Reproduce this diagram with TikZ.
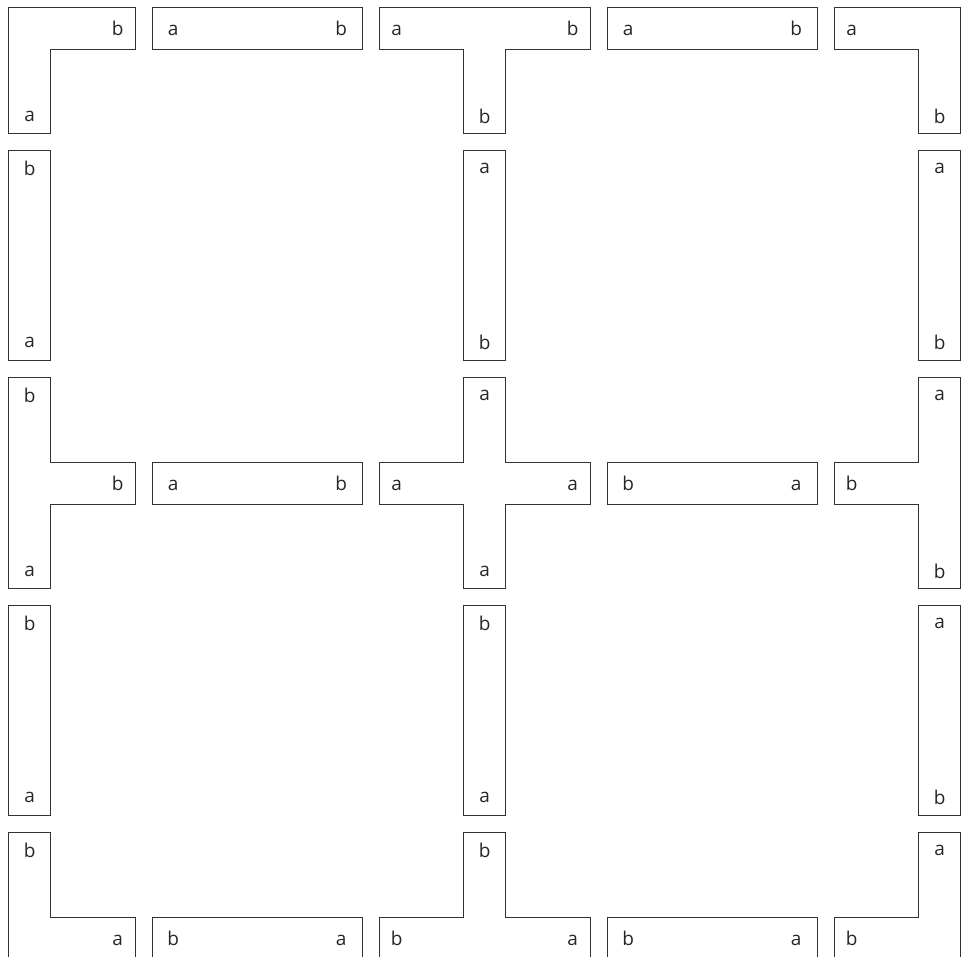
\documentclass[tikz,border=0pt]{standalone}
\usepackage{fontspec}
\setmainfont{Open Sans}
\usetikzlibrary{calc}
\newcommand{\armw}{21}
\newcommand{\armlen}{105.5}
\tikzset{
  tile/.style={draw=black!80, line width=0.75pt},
  lbl/.style={font=\fontsize{19}{19}\selectfont, text=black!85, inner sep=0pt},
  hlbl/.style={lbl, anchor=base},
}

\begin{document}
\begin{tikzpicture}[x=1pt, y=-1pt]
  \useasboundingbox (0,0) rectangle (971,956);
  \clip (0,0) rectangle (971,956);

  % junction centres
  \coordinate (j00) at (29.6,28);  \coordinate (j10) at (484.6,28);  \coordinate (j20) at (939.6,28);
  \coordinate (j01) at (29.6,483); \coordinate (j11) at (484.6,483); \coordinate (j21) at (939.6,483);
  \coordinate (j02) at (29.6,938); \coordinate (j12) at (484.6,938); \coordinate (j22) at (939.6,938);

  % junction pieces
  \draw[tile, shift={(j00)}] (-\armw,-\armw) -- (\armlen,-\armw) -- (\armlen,\armw) -- (\armw,\armw)
    -- (\armw,\armlen) -- (-\armw,\armlen) -- cycle;
  \draw[tile, shift={(j10)}] (-\armlen,-\armw) -- (\armlen,-\armw) -- (\armlen,\armw) -- (\armw,\armw)
    -- (\armw,\armlen) -- (-\armw,\armlen) -- (-\armw,\armw) -- (-\armlen,\armw) -- cycle;
  \draw[tile, shift={(j20)}] (-\armlen,-\armw) -- (\armw,-\armw) -- (\armw,\armlen) -- (-\armw,\armlen)
    -- (-\armw,\armw) -- (-\armlen,\armw) -- cycle;
  \draw[tile, shift={(j01)}] (-\armw,-\armlen) -- (\armw,-\armlen) -- (\armw,-\armw) -- (\armlen,-\armw)
    -- (\armlen,\armw) -- (\armw,\armw) -- (\armw,\armlen) -- (-\armw,\armlen) -- cycle;
  \draw[tile, shift={(j11)}] (-\armw,-\armlen) -- (\armw,-\armlen) -- (\armw,-\armw) -- (\armlen,-\armw)
    -- (\armlen,\armw) -- (\armw,\armw) -- (\armw,\armlen) -- (-\armw,\armlen) -- (-\armw,\armw)
    -- (-\armlen,\armw) -- (-\armlen,-\armw) -- (-\armw,-\armw) -- cycle;
  \draw[tile, shift={(j21)}] (-\armw,-\armlen) -- (\armw,-\armlen) -- (\armw,\armlen) -- (-\armw,\armlen)
    -- (-\armw,\armw) -- (-\armlen,\armw) -- (-\armlen,-\armw) -- (-\armw,-\armw) -- cycle;
  \draw[tile, shift={(j02)}] (-\armw,-\armlen) -- (\armw,-\armlen) -- (\armw,-\armw) -- (\armlen,-\armw)
    -- (\armlen,\armw) -- (-\armw,\armw) -- cycle;
  \draw[tile, shift={(j12)}] (-\armw,-\armlen) -- (\armw,-\armlen) -- (\armw,-\armw) -- (\armlen,-\armw)
    -- (\armlen,\armw) -- (-\armlen,\armw) -- (-\armlen,-\armw) -- (-\armw,-\armw) -- cycle;
  \draw[tile, shift={(j22)}] (-\armw,-\armlen) -- (\armw,-\armlen) -- (\armw,\armw) -- (-\armlen,\armw)
    -- (-\armlen,-\armw) -- (-\armw,-\armw) -- cycle;

  % junction labels
  \node[hlbl] (j00e) at ($(j00)+(\armlen-17.5,7)$) {b};
  \node[lbl]  (j00s) at ($(j00)+(0,\armlen-17.5)$) {a};
  \node[hlbl] (j10w) at ($(j10)+(-\armlen+17.5,7)$) {a};
  \node[hlbl] (j10e) at ($(j10)+(\armlen-17.5,7)$) {b};
  \node[lbl]  (j10s) at ($(j10)+(0,\armlen-17.5)$) {b};
  \node[hlbl] (j20w) at ($(j20)+(-\armlen+17.5,7)$) {a};
  \node[lbl]  (j20s) at ($(j20)+(0,\armlen-17.5)$) {b};
  \node[lbl]  (j01n) at ($(j01)+(0,-\armlen+17.5)$) {b};
  \node[hlbl] (j01e) at ($(j01)+(\armlen-17.5,7)$) {b};
  \node[lbl]  (j01s) at ($(j01)+(0,\armlen-17.5)$) {a};
  \node[lbl]  (j11n) at ($(j11)+(0,-\armlen+17.5)$) {a};
  \node[hlbl] (j11w) at ($(j11)+(-\armlen+17.5,7)$) {a};
  \node[hlbl] (j11e) at ($(j11)+(\armlen-17.5,7)$) {a};
  \node[lbl]  (j11s) at ($(j11)+(0,\armlen-17.5)$) {a};
  \node[lbl]  (j21n) at ($(j21)+(0,-\armlen+17.5)$) {a};
  \node[hlbl] (j21w) at ($(j21)+(-\armlen+17.5,7)$) {b};
  \node[lbl]  (j21s) at ($(j21)+(0,\armlen-17.5)$) {b};
  \node[lbl]  (j02n) at ($(j02)+(0,-\armlen+17.5)$) {b};
  \node[hlbl] (j02e) at ($(j02)+(\armlen-17.5,7)$) {a};
  \node[lbl]  (j12n) at ($(j12)+(0,-\armlen+17.5)$) {b};
  \node[hlbl] (j12w) at ($(j12)+(-\armlen+17.5,7)$) {b};
  \node[hlbl] (j12e) at ($(j12)+(\armlen-17.5,7)$) {a};
  \node[lbl]  (j22n) at ($(j22)+(0,-\armlen+17.5)$) {a};
  \node[hlbl] (j22w) at ($(j22)+(-\armlen+17.5,7)$) {b};

  % horizontal edge pieces
  \foreach \p/\q/\la/\lb in {00/10/a/b, 10/20/a/b, 01/11/a/b, 11/21/b/a, 02/12/b/a, 12/22/b/a} {
    \draw[tile] ($(j\p)+(\armlen+17,-\armw)$) rectangle ($(j\q)+(-\armlen-17,\armw)$);
    \node[hlbl] (h\p\q-l) at ($(j\p)+(\armlen+38,7)$) {\la};
    \node[hlbl] (h\p\q-r) at ($(j\q)+(-\armlen-38,7)$) {\lb};
  }

  % vertical edge pieces
  \foreach \p/\q/\la/\lb in {00/01/b/a, 01/02/b/a, 10/11/a/b, 11/12/b/a, 20/21/a/b, 21/22/a/b} {
    \draw[tile] ($(j\p)+(-\armw,\armlen+17)$) rectangle ($(j\q)+(\armw,-\armlen-17)$);
    \node[lbl] (v\p\q-t) at ($(j\p)+(0,\armlen+35)$) {\la};
    \node[lbl] (v\p\q-b) at ($(j\q)+(0,-\armlen-35)$) {\lb};
  }
\end{tikzpicture}
\end{document}
